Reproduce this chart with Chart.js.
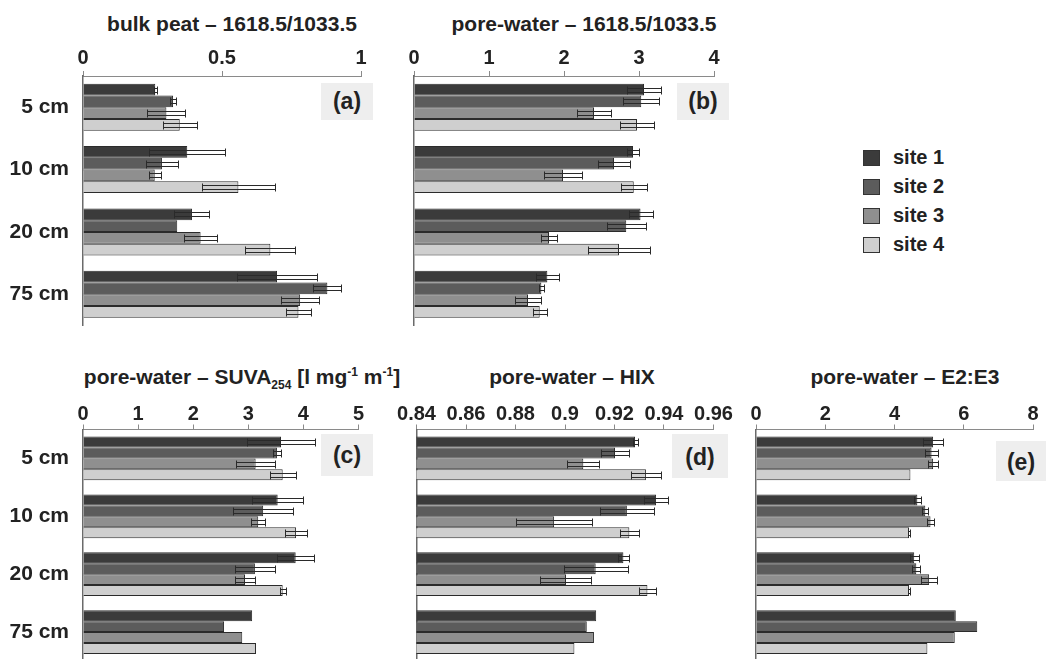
<!DOCTYPE html>
<html lang="en">
<head>
<meta charset="UTF-8">
<title>peat spectra</title>
<script src="https://cdn.jsdelivr.net/npm/chart.js"></script>
<style>
  body { margin: 0; width: 1046px; height: 659px; overflow: hidden; background: #fff;
         font-family: "Liberation Sans", Arial, sans-serif; font-weight: bold; color: #222; }
  canvas { position: absolute; }
  .title { position: absolute; font-size: 21px; line-height: 24px; white-space: nowrap; transform: translateX(-50%); }
  .title sub, .title sup { font-size: 12px; line-height: 0; }
  .tag { position: absolute; background: #eeeeee; font-size: 23px; text-align: center; }
  .legend { position: absolute; left: 863px; top: 143px; font-size: 20px; }
  .legend div { height: 29px; line-height: 29px; display: flex; align-items: center; }
  .legend span.sw { display: inline-block; width: 15px; height: 14px; margin-right: 13px; border: 1px solid #333; }
</style>
</head>
<body>

<div class="title" style="left:232px; top:12px">bulk peat – 1618.5/1033.5</div>
<div class="title" style="left:584px; top:12px">pore-water – 1618.5/1033.5</div>
<div class="title" style="left:242px; top:365px">pore-water – SUVA<sub>254</sub> [l mg<sup>-1</sup> m<sup>-1</sup>]</div>
<div class="title" style="left:572px; top:365px">pore-water – HIX</div>
<div class="title" style="left:905px; top:365px">pore-water – E2:E3</div>

<canvas id="chartA" width="390" height="335" style="left:0; top:0"></canvas>
<canvas id="chartB" width="340" height="335" style="left:390px; top:0"></canvas>
<canvas id="chartC" width="390" height="330" style="left:0; top:340px"></canvas>
<canvas id="chartD" width="360" height="330" style="left:380px; top:340px"></canvas>
<canvas id="chartE" width="316" height="330" style="left:730px; top:340px"></canvas>

<div class="tag" style="left:321px; top:83px; width:52px; height:37px; line-height:37px">(a)</div>
<div class="tag" style="left:677px; top:83px; width:52px; height:37px; line-height:37px">(b)</div>
<div class="tag" style="left:321px; top:434px; width:52px; height:42px; line-height:42px">(c)</div>
<div class="tag" style="left:672px; top:434px; width:56px; height:44px; line-height:46px">(d)</div>
<div class="tag" style="left:996px; top:441px; width:50px; height:40px; line-height:42px">(e)</div>

<div class="legend" id="legend"></div>

<script>
// categories and series
const depths = ['5 cm', '10 cm', '20 cm', '75 cm'];
const sites = ['site 1', 'site 2', 'site 3', 'site 4'];
const siteColors = ['#3b3b3b', '#5c5c5c', '#8f8f8f', '#cfcfcf'];

// (a) bulk peat 1618.5/1033.5
const bulkS1 = [0.26, 0.375, 0.392, 0.698];
const bulkS2 = [0.324, 0.284, 0.339, 0.879];
const bulkS3 = [0.30, 0.258, 0.423, 0.781];
const bulkS4 = [0.348, 0.559, 0.674, 0.775];
const bulkErr1 = [0.005, 0.137, 0.063, 0.145];
const bulkErr2 = [0.01, 0.057, 0, 0.05];
const bulkErr3 = [0.068, 0.022, 0.06, 0.068];
const bulkErr4 = [0.062, 0.132, 0.09, 0.046];

// (b) pore-water 1618.5/1033.5
const pwS1 = [3.067, 2.92, 3.02, 1.778];
const pwS2 = [3.03, 2.667, 2.83, 1.698];
const pwS3 = [2.40, 1.987, 1.80, 1.52];
const pwS4 = [2.973, 2.93, 2.733, 1.676];
const pwErr1 = [0.222, 0.078, 0.16, 0.156];
const pwErr2 = [0.24, 0.21, 0.26, 0.03];
const pwErr3 = [0.229, 0.255, 0.11, 0.178];
const pwErr4 = [0.222, 0.173, 0.41, 0.096];

// (c) SUVA254
const suvaS1 = [3.594, 3.533, 3.86, 3.07];
const suvaS2 = [3.52, 3.27, 3.12, 2.56];
const suvaS3 = [3.133, 3.18, 2.94, 2.89];
const suvaS4 = [3.624, 3.867, 3.624, 3.14];
const suvaErr1 = [0.612, 0.46, 0.34, 0];
const suvaErr2 = [0.08, 0.54, 0.367, 0];
const suvaErr3 = [0.36, 0.13, 0.185, 0];
const suvaErr4 = [0.233, 0.2, 0.055, 0];

// (d) HIX
const hixS1 = [0.9283, 0.9368, 0.9236, 0.9126];
const hixS2 = [0.9202, 0.925, 0.9124, 0.9088];
const hixS3 = [0.9074, 0.8956, 0.9004, 0.9117];
const hixS4 = [0.9327, 0.926, 0.9333, 0.9038];
const hixErr1 = [0.001, 0.0049, 0.0022, 0];
const hixErr2 = [0.0056, 0.0109, 0.0129, 0];
const hixErr3 = [0.0065, 0.0155, 0.0103, 0];
const hixErr4 = [0.0061, 0.0037, 0.0036, 0];

// (e) E2:E3
const e23S1 = [5.115, 4.66, 4.57, 5.77];
const e23S2 = [5.07, 4.89, 4.63, 6.39];
const e23S3 = [5.115, 5.04, 5.0, 5.74];
const e23S4 = [4.46, 4.42, 4.42, 4.95];
const e23Err1 = [0.28, 0.1, 0.13, 0];
const e23Err2 = [0.2, 0.09, 0.12, 0];
const e23Err3 = [0.14, 0.09, 0.24, 0];
const e23Err4 = [0, 0.04, 0.04, 0];

// tick labels
const ticksA = [0, 0.5, 1];
const ticksB = [0, 1, 2, 3, 4];
const ticksC = [0, 1, 2, 3, 4, 5];
const ticksD = [0.84, 0.86, 0.88, 0.9, 0.92, 0.94, 0.96];
const ticksE = [0, 2, 4, 6, 8];

Chart.defaults.font.family = '"Liberation Sans", Arial, sans-serif';
Chart.defaults.font.weight = 'bold';
Chart.defaults.color = '#222';

// error bars drawn from each dataset's "errors" array through the x scale
const errorBars = {
  id: 'errorBars',
  afterDatasetsDraw(chart) {
    const ctx = chart.ctx;
    const xs = chart.scales.x;
    ctx.save();
    ctx.strokeStyle = '#2a2a2a';
    ctx.lineWidth = 1;
    chart.data.datasets.forEach(function (ds, di) {
      chart.getDatasetMeta(di).data.forEach(function (bar, i) {
        const e = ds.errors[i];
        if (!e) return;
        const v = ds.data[i];
        const x0 = Math.round(xs.getPixelForValue(v - e)) + 0.5;
        const x1 = Math.round(xs.getPixelForValue(v + e)) + 0.5;
        const y = Math.round(bar.y) + 0.5;
        ctx.strokeRect(x0, y - 2, x1 - x0, 4);
        ctx.beginPath();
        ctx.moveTo(x0, y - 4); ctx.lineTo(x0, y + 4);
        ctx.moveTo(x1, y - 4); ctx.lineTo(x1, y + 4);
        ctx.stroke();
      });
    });
    ctx.restore();
  }
};

function makePanel(id, series, errs, ticks, box) {
  const datasets = [];
  for (let i = 0; i < sites.length; i++) {
    datasets.push({
      label: sites[i],
      data: series[i],
      errors: errs[i],
      backgroundColor: siteColors[i],
      borderColor: '#2b2b2b',
      borderWidth: 1,
      categoryPercentage: 0.755,
      barPercentage: 1
    });
  }
  new Chart(document.getElementById(id), {
    type: 'bar',
    data: { labels: depths, datasets },
    options: {
      indexAxis: 'y',
      responsive: false,
      animation: false,
      devicePixelRatio: 1,
      layout: { padding: box.pad },
      plugins: { legend: { display: false }, tooltip: { enabled: false } },
      scales: {
        x: {
          position: 'top',
          min: ticks[0],
          max: ticks[ticks.length - 1],
          afterBuildTicks: function (s) { s.ticks = ticks.map(function (v) { return { value: v }; }); },
          afterFit: function (s) { s.height = box.xh; },
          ticks: { font: { size: 20 }, padding: box.tp, maxRotation: 0, autoSkip: false,
                   callback: function (v) { return String(v); } },
          grid: { drawOnChartArea: false, tickLength: 5, color: '#8a8a8a' },
          border: { color: '#8a8a8a', width: 1 }
        },
        y: {
          // keep the depth labels from pushing the plot area up
          afterFit: function (s) { s.width = box.yw; s.paddingTop = 0; s.paddingBottom = 0; },
          ticks: { display: box.yLabels, font: { size: 21 }, padding: 14 },
          grid: { display: true, drawOnChartArea: false, drawTicks: false },
          border: { color: '#6a6a6a', width: 1.5 }
        }
      }
    },
    plugins: [errorBars]
  });
}

makePanel('chartA', [bulkS1, bulkS2, bulkS3, bulkS4], [bulkErr1, bulkErr2, bulkErr3, bulkErr4], ticksA,
  { pad: { left: 0, right: 29, top: 0, bottom: 9.5 }, xh: 76, yw: 83, yLabels: true, tp: 0.5 });
makePanel('chartB', [pwS1, pwS2, pwS3, pwS4], [pwErr1, pwErr2, pwErr3, pwErr4], ticksB,
  { pad: { left: 24, right: 16, top: 0, bottom: 9.5 }, xh: 76, yw: 0, yLabels: false, tp: 0.5 });
makePanel('chartC', [suvaS1, suvaS2, suvaS3, suvaS4], [suvaErr1, suvaErr2, suvaErr3, suvaErr4], ticksC,
  { pad: { left: 0, right: 31.5, top: 0, bottom: 9 }, xh: 89.5, yw: 83, yLabels: true, tp: -2 });
makePanel('chartD', [hixS1, hixS2, hixS3, hixS4], [hixErr1, hixErr2, hixErr3, hixErr4], ticksD,
  { pad: { left: 36.5, right: 26.5, top: 0, bottom: 9 }, xh: 89.5, yw: 0, yLabels: false, tp: -2 });
makePanel('chartE', [e23S1, e23S2, e23S3, e23S4], [e23Err1, e23Err2, e23Err3, e23Err4], ticksE,
  { pad: { left: 26, right: 13, top: 0, bottom: 9 }, xh: 89.5, yw: 0, yLabels: false, tp: -2 });

// shared legend
const legend = document.getElementById('legend');
sites.forEach(function (s, i) {
  const row = document.createElement('div');
  row.innerHTML = '<span class="sw" style="background:' + siteColors[i] + '"></span>' + s;
  legend.appendChild(row);
});
</script>
</body>
</html>
